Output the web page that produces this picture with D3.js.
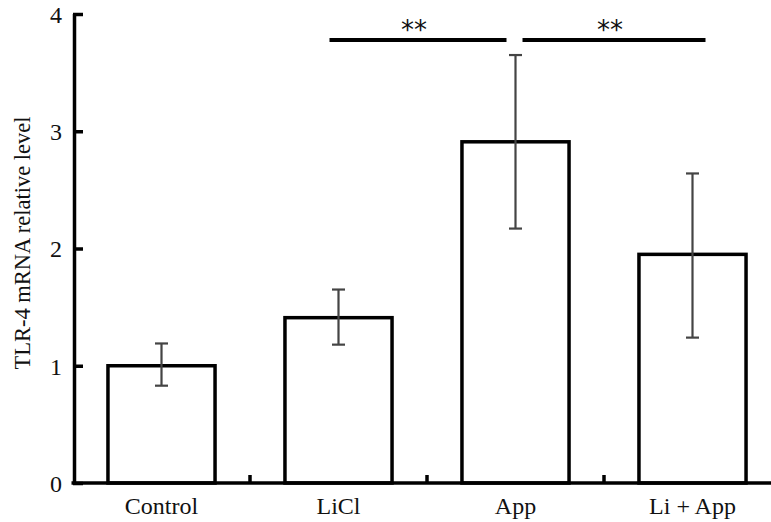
<!DOCTYPE html>
<html>
<head>
<meta charset="utf-8">
<script src="https://cdn.jsdelivr.net/npm/d3@7"></script>
<style>
  body { margin: 0; background: #fff; }
  text { font-family: "Liberation Serif", "Times New Roman", serif; fill: #111; }
</style>
</head>
<body>
<div id="chart"></div>
<script>
const groups = ["Control", "LiCl", "App", "Li + App"];
const means = [1.0, 1.41, 2.91, 1.95];
const errLow = [0.83, 1.18, 2.17, 1.24];
const errHigh = [1.19, 1.65, 3.65, 2.64];
const yTicks = [0, 1, 2, 3, 4];
const sigPairs = [["LiCl", "App", "**"], ["App", "Li + App", "**"]];

const W = 771, H = 522;
const svg = d3.select("#chart").append("svg")
    .attr("width", W).attr("height", H);

const x = d3.scaleBand().domain(groups).range([73, 781]);
const y = d3.scaleLinear().domain([0, 4]).range([483, 14]);
const barW = x.bandwidth() * 0.605;
const cx = g => x(g) + x.bandwidth() / 2;

// bars
svg.selectAll(".bar")
    .data(groups)
    .enter().append("rect")
    .attr("class", "bar")
    .attr("x", d => cx(d) - barW / 2)
    .attr("y", (d, i) => y(means[i]))
    .attr("width", barW)
    .attr("height", (d, i) => y(0) - y(means[i]))
    .attr("fill", "#fff")
    .attr("stroke", "#000")
    .attr("stroke-width", 3.5);

// error bars
const eb = svg.selectAll(".err").data(groups).enter().append("g")
    .attr("stroke", "#444").attr("stroke-width", 2.2);
eb.append("line")
    .attr("x1", d => cx(d)).attr("x2", d => cx(d))
    .attr("y1", (d, i) => y(errLow[i])).attr("y2", (d, i) => y(errHigh[i]));
eb.append("line")
    .attr("x1", d => cx(d) - 6.5).attr("x2", d => cx(d) + 6.5)
    .attr("y1", (d, i) => y(errLow[i])).attr("y2", (d, i) => y(errLow[i]));
eb.append("line")
    .attr("x1", d => cx(d) - 6.5).attr("x2", d => cx(d) + 6.5)
    .attr("y1", (d, i) => y(errHigh[i])).attr("y2", (d, i) => y(errHigh[i]));

// y axis
const yAxis = svg.append("g")
    .attr("transform", "translate(73,0)")
    .call(d3.axisRight(y).tickValues(yTicks).tickSize(10).tickFormat(d3.format("d")));
yAxis.select(".domain").attr("stroke", "#000").attr("stroke-width", 3.5)
    .attr("d", `M1.5,${y(4)}V${y(0)}`);
yAxis.selectAll(".tick line").attr("stroke", "#000").attr("stroke-width", 3.5);
yAxis.selectAll(".tick text")
    .attr("x", -11).attr("text-anchor", "end").attr("dy", "0.35em")
    .style("font-size", "24px");

// x axis
const xAxis = svg.append("g")
    .attr("transform", "translate(0,483)");
xAxis.append("line")
    .attr("x1", 71.5).attr("x2", 781).attr("y1", 0).attr("y2", 0)
    .attr("stroke", "#000").attr("stroke-width", 3.5);
xAxis.selectAll(".xt").data(groups.slice(1)).enter().append("line")
    .attr("x1", d => x(d)).attr("x2", d => x(d))
    .attr("y1", 0).attr("y2", -8)
    .attr("stroke", "#000").attr("stroke-width", 3.5);
xAxis.selectAll(".xl").data(groups).enter().append("text")
    .attr("x", d => cx(d)).attr("y", 31)
    .attr("text-anchor", "middle")
    .style("font-size", "24px")
    .text(d => d);

// y label
svg.append("text")
    .attr("transform", "translate(30,243) rotate(-90)")
    .attr("text-anchor", "middle")
    .style("font-size", "22.5px")
    .text("TLR-4 mRNA relative level");

// significance lines
const sigY = 40;
sigPairs.forEach(([a, b, lab], i) => {
  const x1 = i === 0 ? cx(a) - 9 : cx(a) + 7;
  const x2 = i === 0 ? cx(b) - 9 : cx(b) + 13;
  svg.append("line")
    .attr("x1", x1).attr("x2", x2).attr("y1", sigY).attr("y2", sigY)
    .attr("stroke", "#000").attr("stroke-width", 4);
  svg.append("text")
    .attr("x", (x1 + x2) / 2 - 4).attr("y", sigY - 1)
    .attr("text-anchor", "middle")
    .style("font-size", "26px")
    .style("font-family", "DejaVu Sans, sans-serif")
    .text(lab);
});
</script>
</body>
</html>
